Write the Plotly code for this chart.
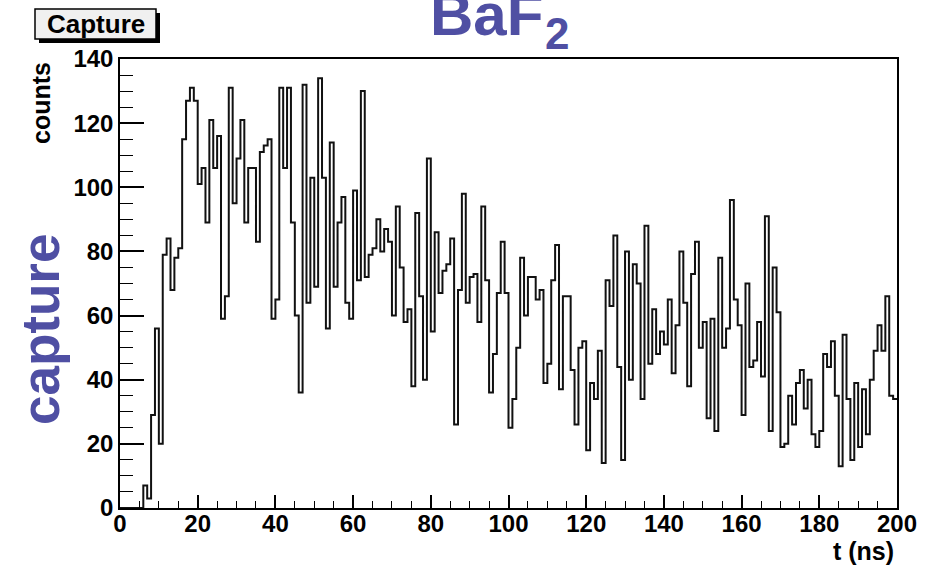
import plotly.graph_objects as go

# histogram of capture time, 1 ns bins from 0 to 200 ns
bin_edges_start = 0
bin_width = 1
counts = [
    0, 0, 0, 0, 0, 0, 7, 3, 29, 56,
    20, 79, 84, 68, 78, 81, 115, 127, 131, 127,
    101, 106, 89, 121, 106, 116, 59, 66, 131, 95,
    109, 121, 89, 106, 106, 83, 111, 113, 115, 59,
    65, 131, 106, 131, 89, 60, 36, 132, 64, 103,
    69, 134, 103, 56, 114, 69, 89, 97, 64, 59,
    99, 71, 130, 72, 79, 81, 90, 80, 87, 83,
    60, 94, 75, 58, 62, 38, 92, 66, 40, 109,
    55, 86, 67, 74, 76, 84, 26, 68, 98, 64,
    72, 73, 58, 94, 71, 36, 48, 67, 83, 67,
    25, 34, 50, 78, 60, 72, 72, 65, 68, 39,
    45, 71, 82, 37, 66, 66, 43, 26, 50, 52,
    18, 39, 34, 49, 14, 71, 63, 85, 44, 15,
    80, 40, 76, 70, 34, 88, 45, 62, 48, 55,
    51, 65, 42, 57, 80, 64, 38, 73, 83, 50,
    58, 28, 59, 24, 78, 50, 56, 96, 65, 57,
    29, 70, 44, 46, 58, 41, 91, 24, 75, 61,
    19, 20, 35, 26, 39, 43, 31, 40, 23, 19,
    24, 48, 44, 52, 35, 13, 54, 34, 15, 39,
    19, 37, 23, 40, 49, 57, 49, 66, 35, 34,
]
x_ticks = [0, 20, 40, 60, 80, 100, 120, 140, 160, 180, 200]
y_ticks = [0, 20, 40, 60, 80, 100, 120, 140]

edges = [bin_edges_start + i * bin_width for i in range(len(counts) + 1)]
ys = counts + [counts[-1]]

FONT = "Liberation Sans"
PURPLE = "#4f4fa3"

fig = go.Figure()
fig.add_trace(go.Scatter(
    x=edges, y=ys, mode="lines", line_shape="hv",
    line=dict(color="#111111", width=2), showlegend=False, hoverinfo="skip",
))

axis_common = dict(
    showgrid=False, zeroline=False, showline=True, linecolor="black", linewidth=1.5,
    mirror=True, ticks="inside", tickcolor="black", tickwidth=1.5,
    tickfont=dict(family=FONT, size=24, color="black", weight="bold"),
)
fig.update_xaxes(range=[0, 200], tickvals=x_ticks, ticklen=13, ticklabelstandoff=-7,
                 minor=dict(ticks="inside", ticklen=7, dtick=5, tickcolor="black", tickwidth=1.2),
                 **axis_common)
fig.update_yaxes(range=[0, 140], tickvals=y_ticks, ticklen=24,
                 minor=dict(ticks="inside", ticklen=13, dtick=5, tickcolor="black", tickwidth=1.2),
                 **axis_common)

W, H = 930, 565
L, R, T, B = 120, 33, 59, 57
pw, ph = W - L - R, H - T - B


def px(xp):
    return (xp - L) / pw


def py(yp):
    return (H - B - yp) / ph


shapes = [
    dict(type="rect", xref="paper", yref="paper", x0=px(39), x1=px(160), y0=py(43), y1=py(13),
         fillcolor="black", line=dict(width=0), layer="above"),
    dict(type="rect", xref="paper", yref="paper", x0=px(35), x1=px(156), y0=py(39), y1=py(9),
         fillcolor="#f0f0f0", line=dict(color="black", width=1.5), layer="above"),
]

annotations = [
    dict(text="Capture", x=px(95.5), y=py(24), xref="paper", yref="paper", showarrow=False,
         xanchor="center", yanchor="middle", font=dict(family=FONT, size=26, color="black", weight="bold")),
    dict(text="BaF", x=px(428), y=py(50), xref="paper", yref="paper", showarrow=False,
         xanchor="left", yanchor="bottom", font=dict(family=FONT, size=60, color=PURPLE, weight="bold")),
    dict(text="2", x=px(543), y=py(60), xref="paper", yref="paper", showarrow=False,
         xanchor="left", yanchor="bottom", font=dict(family=FONT, size=44, color=PURPLE, weight="bold")),
    dict(text="(a)", x=px(880), y=py(1), xref="paper", yref="paper", showarrow=False,
         xanchor="center", yanchor="bottom", font=dict(family=FONT, size=36, color="black", weight="bold")),
    dict(text="counts", x=px(41), y=py(60), xref="paper", yref="paper", showarrow=False, textangle=-90,
         xanchor="center", yanchor="top", font=dict(family=FONT, size=25, color="black", weight="bold")),
    dict(text="capture", x=px(40), y=py(330), xref="paper", yref="paper", showarrow=False, textangle=-90,
         xanchor="center", yanchor="middle", font=dict(family=FONT, size=53, color=PURPLE, weight="bold")),
    dict(text="t (ns)", x=px(896), y=py(551), xref="paper", yref="paper", showarrow=False,
         xanchor="right", yanchor="middle", font=dict(family=FONT, size=25, color="black", weight="bold")),
]

fig.update_layout(
    width=W, height=H, margin=dict(l=L, r=R, t=T, b=B),
    paper_bgcolor="white", plot_bgcolor="white",
    shapes=shapes, annotations=annotations, showlegend=False,
)

fig.write_html("out.html")
